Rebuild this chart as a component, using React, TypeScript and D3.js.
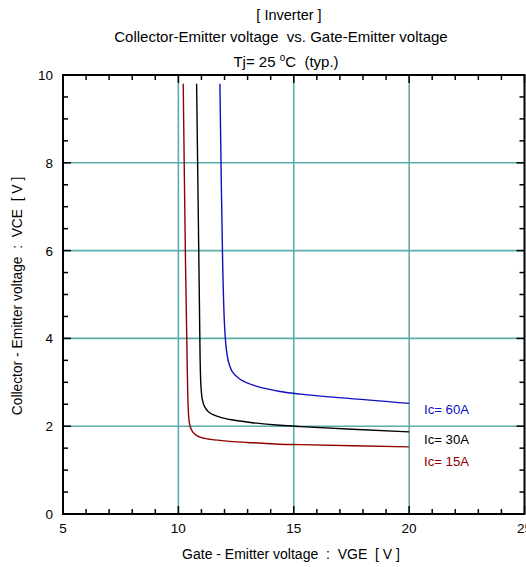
import React from "react";
import * as d3 from "d3";

const xTicks = [5, 10, 15, 20, 25];
const yTicks = [0, 2, 4, 6, 8, 10];
const xGrid = [10, 15];
const xGridDark = [20];
const yGrid = [2, 4, 6, 8];

const ic15: [number, number][] = [
  [10.21, 9.8], [10.31, 5.7], [10.38, 3.5], [10.42, 2.5], [10.46, 2.14], [10.52, 1.98],
  [10.62, 1.87], [10.78, 1.79], [11.0, 1.74], [11.4, 1.7], [12.1, 1.66], [13.0, 1.63],
  [14.4, 1.59], [15.3, 1.58], [20.0, 1.53],
];
const ic30: [number, number][] = [
  [10.79, 9.8], [10.89, 5.7], [10.94, 3.6], [10.98, 2.9], [11.04, 2.6], [11.14, 2.44],
  [11.3, 2.33], [11.55, 2.25], [11.9, 2.19], [12.5, 2.13], [13.2, 2.08], [14.4, 2.02],
  [15.3, 1.99], [20.0, 1.87],
];
const ic60: [number, number][] = [
  [11.8, 9.8], [11.92, 5.7], [12.0, 4.3], [12.08, 3.75], [12.18, 3.45], [12.35, 3.23],
  [12.67, 3.07], [13.45, 2.9], [14.4, 2.79], [15.3, 2.73], [20.0, 2.52],
];

const seriesNames = ["Ic= 60A", "Ic= 30A", "Ic= 15A"];
const seriesColors = ["#1010c0", "#000000", "#900000"];
const seriesData = [ic60, ic30, ic15];
const labelY = [408.5, 438.5, 461];

export default function App() {
  const L = 63, R = 524.5, T = 75, B = 514;
  const x = d3.scaleLinear().domain([5, 25]).range([L, R]);
  const y = d3.scaleLinear().domain([0, 10]).range([B, T]);
  const line = d3
    .line<[number, number]>()
    .x((d) => x(d[0]))
    .y((d) => y(d[1]))
    .curve(d3.curveCatmullRom.alpha(0.5));

  const xMinor = d3.range(5, 25.01, 1);
  const yMinor = d3.range(0, 10.01, 0.5);
  const font = "'Liberation Sans', Arial, sans-serif";
  const pre = { whiteSpace: "pre" as const };

  return (
    <svg
      width={526}
      height={567}
      style={{ position: "absolute", left: 0, top: 0, background: "#fff" }}
      fontFamily={font}
    >
      <rect x={0} y={0} width={526} height={567} fill="#fff" />
      {/* titles */}
      <text x={289} y={20} fontSize={14.5} textAnchor="middle" style={pre}>[ Inverter ]</text>
      <text x={281} y={42} fontSize={15} textAnchor="middle" style={pre}>
        Collector-Emitter voltage  vs. Gate-Emitter voltage
      </text>
      <text x={286} y={67} fontSize={15} textAnchor="middle" style={pre}>
        <tspan>Tj= 25 </tspan>
        <tspan fontSize={10} dy={-6}>o</tspan>
        <tspan dy={6}>C  (typ.)</tspan>
      </text>

      {/* grid */}
      {xGrid.map((v) => (
        <line key={"gx" + v} x1={x(v)} x2={x(v)} y1={T} y2={B} stroke="#5aadad" strokeWidth={1.6} />
      ))}
      {xGridDark.map((v) => (
        <line key={"gd" + v} x1={x(v)} x2={x(v)} y1={T} y2={B} stroke="#0a7a7a" strokeWidth={1} />
      ))}
      {yGrid.map((v) => (
        <line key={"gy" + v} x1={L} x2={R} y1={y(v)} y2={y(v)} stroke="#5aadad" strokeWidth={1.6} />
      ))}

      {/* curves */}
      {seriesData.map((d, i) => (
        <path key={"s" + i} d={line(d) || ""} fill="none" stroke={seriesColors[i]} strokeWidth={1.4} />
      ))}

      {/* frame */}
      <rect x={L} y={T} width={R - L} height={B - T} fill="none" stroke="#000" strokeWidth={2} />

      {/* ticks */}
      {xMinor.map((v) => {
        const major = xTicks.includes(v);
        const len = major ? 8 : 5;
        return (
          <g key={"xt" + v}>
            <line x1={x(v)} x2={x(v)} y1={B} y2={B - len} stroke="#000" strokeWidth={1.5} />
            <line x1={x(v)} x2={x(v)} y1={T} y2={T + len} stroke="#000" strokeWidth={1.5} />
          </g>
        );
      })}
      {yMinor.map((v) => {
        const major = yTicks.includes(v);
        const len = major ? 8 : 5;
        return (
          <g key={"yt" + v}>
            <line x1={L} x2={L + len} y1={y(v)} y2={y(v)} stroke="#000" strokeWidth={1.5} />
            <line x1={R} x2={R - len} y1={y(v)} y2={y(v)} stroke="#000" strokeWidth={1.5} />
          </g>
        );
      })}

      {/* tick labels */}
      {xTicks.map((v) => (
        <text key={"xl" + v} x={x(v)} y={533} fontSize={13.5} textAnchor="middle">{v}</text>
      ))}
      {yTicks.map((v) => (
        <text key={"yl" + v} x={53} y={y(v) + 5} fontSize={13.5} textAnchor="end">{v}</text>
      ))}

      {/* axis titles */}
      <text x={291} y={559} fontSize={14} textAnchor="middle" style={pre}>
        Gate - Emitter voltage  :  VGE  [ V ]
      </text>
      <text
        transform="translate(22,296) rotate(-90)"
        fontSize={13.8}
        textAnchor="middle"
        style={pre}
      >
        Collector - Emitter voltage  :  VCE  [ V ]
      </text>

      {/* series labels */}
      {seriesNames.map((n, i) => (
        <text key={"lab" + i} x={424} y={labelY[i] + 5} fontSize={13.2} fill={seriesColors[i]}>{n}</text>
      ))}
    </svg>
  );
}
